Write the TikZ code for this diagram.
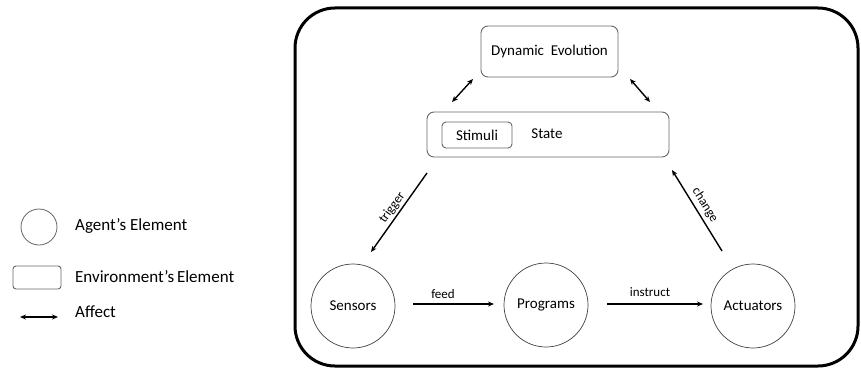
\documentclass[tikz,border=0pt]{standalone}
\usepackage{fontspec}
\setmainfont{Carlito}
\usetikzlibrary{arrows.meta}
\begin{document}
\begin{tikzpicture}[x=1pt,y=-1pt,
  lbl/.style={font=\fontsize{15}{18}\selectfont, inner sep=0pt},
  elbl/.style={font=\fontsize{13}{15}\selectfont, inner sep=2pt},
  leg/.style={font=\fontsize{17}{20}\selectfont, anchor=west, inner sep=0pt},
  envbox/.style={draw=black!60, line width=0.9pt, rounded corners=7pt, fill=white},
  agent/.style={draw=black!75, line width=0.7pt, circle, minimum size=84pt, inner sep=0pt, font=\fontsize{15}{18}\selectfont},
  arr/.style={line width=1.4pt, -{Stealth[length=6pt,width=5pt]}},
  darr/.style={line width=1.4pt, {Stealth[length=6pt,width=5pt]}-{Stealth[length=6pt,width=5pt]}}
]
\useasboundingbox (0,0) rectangle (861,369);
% outer frame
\draw[line width=3pt, rounded corners=40pt] (295,8) rectangle (858,366);

% environment boxes
\node[envbox, minimum width=137pt, minimum height=51pt, lbl] (dyn) at (549.5,51.5) {Dynamic\ \ Evolution};
\node[envbox, minimum width=242pt, minimum height=45pt] (state) at (548,134.5) {};
\node[envbox, minimum width=70pt, minimum height=26pt, rounded corners=4pt, lbl] (stim) at (477,135) {Stimuli};
\node[lbl] (statelbl) at (547,134) {State};

% agent circles
\node[agent] (sens) at (353,306) {Sensors};
\node[agent] (prog) at (546,305) {Programs};
\node[agent] (act) at (753,306) {Actuators};

% coordinates for free ends
\coordinate (d1a) at (452,102); \coordinate (d1b) at (473,79);
\coordinate (d2a) at (630,79);  \coordinate (d2b) at (650,102);
\coordinate (t1) at (427,173);  \coordinate (t2) at (371,252);
\coordinate (c1) at (722,251);  \coordinate (c2) at (672,170);
\coordinate (f1) at (413,304);  \coordinate (f2) at (494,304);
\coordinate (i1) at (607,304);  \coordinate (i2) at (703,304);

\draw[darr] (d1a) -- (d1b);
\draw[darr] (d2a) -- (d2b);
\draw[arr] (t1) -- node[elbl, sloped, above] {trigger} (t2);
\draw[arr] (c1) -- (c2);
\node[elbl, rotate=-58] (changel) at (705,205) {change};
\draw[arr] (f1) -- (f2);
\node[elbl] (feedl) at (443,294) {feed};
\draw[arr] (i1) -- (i2);
\node[elbl] (instl) at (650,292) {instruct};

% legend
\node[draw=black!60, line width=0.8pt, circle, minimum size=36pt, inner sep=0pt] (legc) at (39,227) {};
\node[leg] (legct) at (75,226) {Agent’s Element};
\node[draw=black!60, line width=0.9pt, rounded corners=3pt, minimum width=48pt, minimum height=23pt] (legr) at (37,277.5) {};
\node[leg] (legrt) at (75,277) {Environment’s\,Element};
\coordinate (la1) at (20,317); \coordinate (la2) at (58,317);
\draw[darr, line width=1.2pt] (la1) -- (la2);
\node[leg] (legat) at (75,312) {Affect};
\end{tikzpicture}
\end{document}
